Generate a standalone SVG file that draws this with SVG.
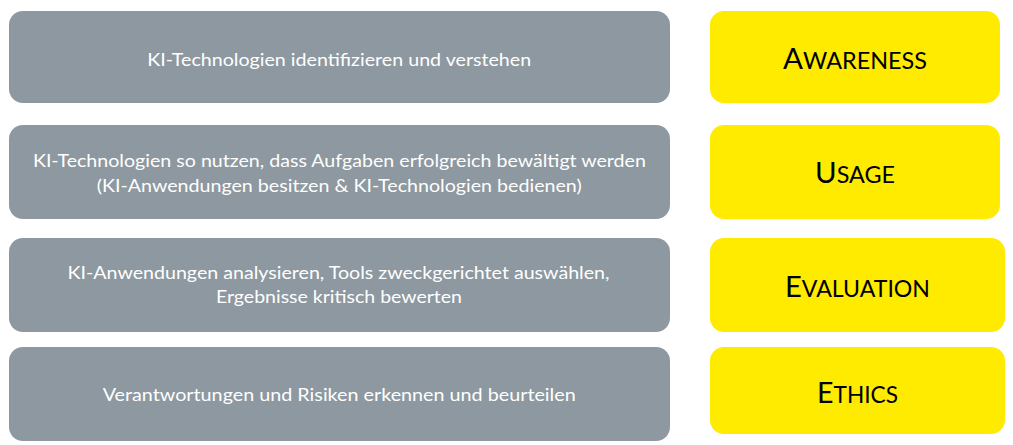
<svg xmlns="http://www.w3.org/2000/svg" width="1013" height="445" viewBox="0 0 1013 445">
  <style>
    .g { fill: #8D98A0; }
    .y { fill: #FFEB00; }
    .gt { font-family: Lato, "Open Sans", "Liberation Sans", sans-serif; font-size: 17px; fill: #FFFFFF; text-anchor: middle; }
    .yt { font-family: Lato, "Open Sans", "Liberation Sans", sans-serif; fill: #000000; text-anchor: middle; }
    .big { font-size: 29px; }
    .sm { font-size: 23px; }
  </style>
  <rect width="1013" height="445" fill="#FFFFFF"/>
  <g id="desc-awareness">
    <rect class="g" x="9" y="11" width="661" height="92" rx="14"/>
    <text class="gt" x="339.2" y="65.5" textLength="384" lengthAdjust="spacingAndGlyphs">KI-Technologien identifizieren und verstehen</text>
  </g>
  <g id="desc-usage">
    <rect class="g" x="9" y="125" width="661" height="94" rx="14"/>
    <text class="gt" x="339.4" y="166.7" textLength="613" lengthAdjust="spacingAndGlyphs">KI-Technologien so nutzen, dass Aufgaben erfolgreich bewältigt werden</text>
    <text class="gt" x="339.2" y="191.7" textLength="485" lengthAdjust="spacingAndGlyphs">(KI-Anwendungen besitzen &amp; KI-Technologien bedienen)</text>
  </g>
  <g id="desc-evaluation">
    <rect class="g" x="9" y="238" width="661" height="94" rx="14"/>
    <text class="gt" x="338.5" y="278.5" textLength="542" lengthAdjust="spacingAndGlyphs">KI-Anwendungen analysieren, Tools zweckgerichtet auswählen,</text>
    <text class="gt" x="339" y="303" textLength="246" lengthAdjust="spacingAndGlyphs">Ergebnisse kritisch bewerten</text>
  </g>
  <g id="desc-ethics">
    <rect class="g" x="9" y="347" width="661" height="94" rx="14"/>
    <text class="gt" x="339.2" y="400.5" textLength="473" lengthAdjust="spacingAndGlyphs">Verantwortungen und Risiken erkennen und beurteilen</text>
  </g>
  <g id="label-awareness">
    <rect class="y" x="710" y="11" width="290" height="92" rx="14"/>
    <text class="yt" x="855" y="69" textLength="144" lengthAdjust="spacingAndGlyphs"><tspan class="big">A</tspan><tspan class="sm">WARENESS</tspan></text>
  </g>
  <g id="label-usage">
    <rect class="y" x="710" y="125" width="290" height="94" rx="14"/>
    <text class="yt" x="855" y="183.3" textLength="80" lengthAdjust="spacingAndGlyphs"><tspan class="big">U</tspan><tspan class="sm">SAGE</tspan></text>
  </g>
  <g id="label-evaluation">
    <rect class="y" x="710" y="238" width="295" height="94" rx="14"/>
    <text class="yt" x="857.5" y="297" textLength="145" lengthAdjust="spacingAndGlyphs"><tspan class="big">E</tspan><tspan class="sm">VALUATION</tspan></text>
  </g>
  <g id="label-ethics">
    <rect class="y" x="710" y="347" width="295" height="87" rx="14"/>
    <text class="yt" x="857.5" y="403" textLength="81" lengthAdjust="spacingAndGlyphs"><tspan class="big">E</tspan><tspan class="sm">THICS</tspan></text>
  </g>
  <g id="connectors"/>
</svg>
